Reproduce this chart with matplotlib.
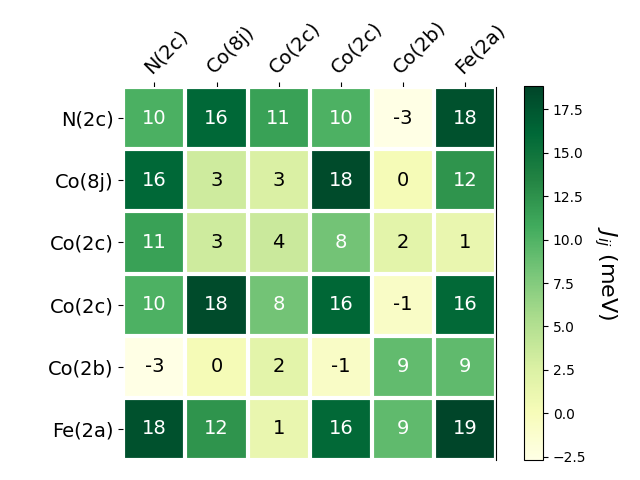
import numpy as np
import matplotlib
matplotlib.use('Agg')
from matplotlib import pyplot as plt

# site labels
sites = ['N(2c)', 'Co(8j)', 'Co(2c)', 'Co(2c)', 'Co(2b)', 'Fe(2a)']

# exchange couplings J_ij in meV
row_n2c = [10.2, 16.1, 11.4, 10.1, -2.69, 17.9]
row_co8j = [16.1, 3.3, 2.6, 18.3, 0.2, 12.3]
row_co2c_a = [11.4, 3.3, 3.6, 8.3, 1.8, 1.2]
row_co2c_b = [10.1, 18.3, 8.3, 16.2, -0.8, 15.9]
row_co2b = [-2.69, 0.2, 1.8, -0.8, 9.1, 9.2]
row_fe2a = [17.9, 12.3, 1.2, 15.9, 9.2, 18.84]

data = np.array([row_n2c, row_co8j, row_co2c_a, row_co2c_b, row_co2b, row_fe2a])

fig = plt.figure(figsize=(6.4, 4.8), dpi=100)
ax = fig.add_axes([0.1925, 0.0417, 0.583, 0.777])
cax = fig.add_axes([0.819, 0.0417, 0.0297, 0.779])

im = ax.imshow(data, cmap='YlGn')
cbar = fig.colorbar(im, cax=cax)
cbar.ax.set_ylabel(r'$J_{ij}$ (meV)', rotation=-90, va='bottom', fontsize=16)

n = len(sites)
ax.set_xticks(np.arange(n))
ax.set_yticks(np.arange(n))
ax.set_xticklabels(sites, fontsize=14)
ax.set_yticklabels(sites, fontsize=14)
ax.tick_params(top=True, bottom=False, labeltop=True, labelbottom=False)
plt.setp(ax.get_xticklabels(), rotation=45, ha='left', rotation_mode='anchor')

for side in ['top', 'left', 'bottom']:
    ax.spines[side].set_visible(False)

ax.set_xticks(np.arange(n + 1) - .5, minor=True)
ax.set_yticks(np.arange(n + 1) - .5, minor=True)
ax.grid(which='minor', color='w', linestyle='-', linewidth=3)
ax.tick_params(which='minor', top=False, bottom=False, left=False)

# white text on dark cells
threshold = im.norm(data.max()) / 2.
for i in range(n):
    for j in range(n):
        color = 'white' if im.norm(data[i, j]) > threshold else 'black'
        ax.text(j, i, '{:.0f}'.format(data[i, j]), ha='center', va='center',
                color=color, fontsize=14)

fig.savefig('out.png')
